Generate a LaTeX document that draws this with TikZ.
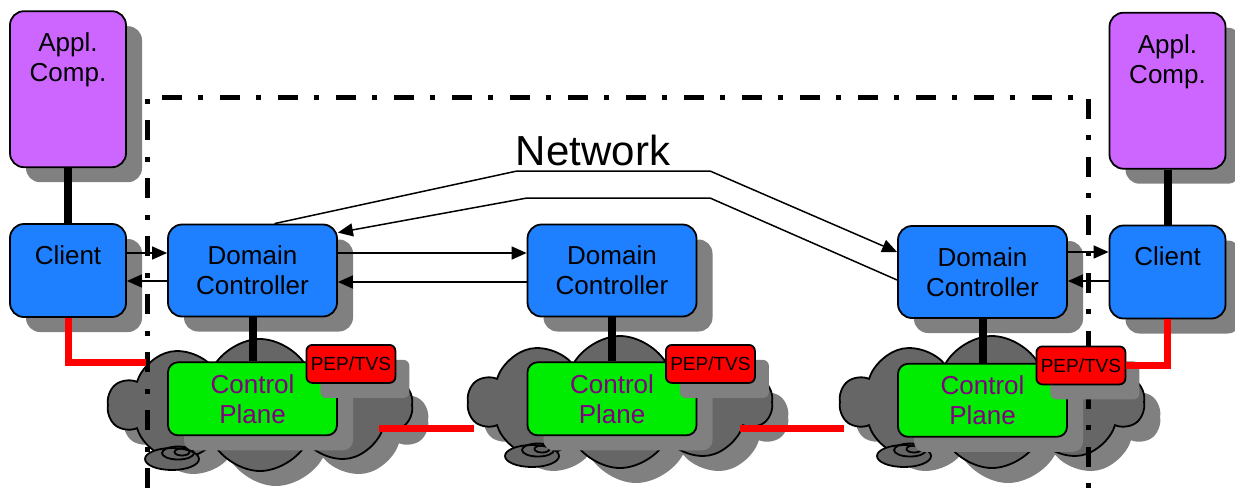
\documentclass[tikz,border=0pt]{standalone}
\usepackage{fontspec}
\setmainfont{Liberation Sans}
\usepackage{tikz}
\usetikzlibrary{positioning,shapes.symbols,shadows,arrows.meta}

\definecolor{applviolet}{RGB}{204,102,255}
\definecolor{ctrlblue}{RGB}{30,127,255}
\definecolor{planegreen}{RGB}{0,236,0}
\definecolor{planetext}{RGB}{128,0,128}
\definecolor{pepred}{RGB}{255,0,0}
\definecolor{shadowgray}{RGB}{128,128,128}
\definecolor{cloudgray}{RGB}{102,102,102}

\tikzstyle{boxshadow} = [drop shadow={shadow xshift=8pt, shadow yshift=-7.5pt, fill=shadowgray, opacity=1}]
\tikzstyle{roundbox} = [rectangle, rounded corners=7pt, draw=black, line width=0.9pt, boxshadow, font=\fontsize{13}{15}\selectfont, align=center]
\tikzstyle{applbox} = [roundbox, fill=applviolet, minimum width=58pt, minimum height=78pt]
\tikzstyle{clientbox} = [roundbox, fill=ctrlblue, minimum width=58pt, minimum height=46.5pt]
\tikzstyle{domainbox} = [roundbox, fill=ctrlblue, minimum width=84.5pt, minimum height=46pt]
\tikzstyle{planebox} = [roundbox, rounded corners=5pt, fill=planegreen, text=planetext, minimum width=84.5pt, minimum height=36.5pt]
\tikzstyle{pepbox} = [rectangle, rounded corners=3pt, draw=black, line width=0.9pt, fill=pepred, minimum width=44.5pt, minimum height=19pt, inner sep=0pt, font=\fontsize{9.5}{11}\selectfont, drop shadow={shadow xshift=7pt, shadow yshift=-7.5pt, fill=shadowgray, opacity=1}]
\tikzstyle{boxtext} = [anchor=north, yshift=-11pt, inner sep=0pt, align=center, font=\fontsize{13}{15}\selectfont]
\tikzstyle{netcloud} = [cloud, cloud puffs=10, cloud puff arc=125, aspect=2.3, draw=black, line width=0.9pt, fill=cloudgray, minimum width=152pt, minimum height=66pt, boxshadow]
\tikzstyle{cloudline} = [draw=black, line width=0.9pt]
\tikzstyle{frame} = [line width=2.5pt, dash pattern=on 10pt off 8pt on 2.5pt off 8.5pt]
\tikzstyle{solidlink} = [line width=4pt]
\tikzstyle{redlink} = [line width=3.5pt, draw=pepred]
\tikzstyle{flow} = [->, line width=0.75pt]

\begin{document}
\begin{tikzpicture}[x=0.5pt, y=-0.5pt, node distance=22pt, >={Triangle[length=7.5pt,width=6.5pt]}]
\useasboundingbox (0,0) rectangle (1235,488);

% clouds
\node (cloud1) [netcloud] at (260,405) {};
\draw[cloudline, fill=cloudgray] ([shift={(-44pt,-27pt)}]cloud1.center) ellipse (13.5pt and 5.5pt);
\draw[cloudline] ([shift={(-41pt,-24pt)}]cloud1.center) ellipse (8pt and 3.25pt);
\draw[cloudline] ([shift={(-39pt,-23.5pt)}]cloud1.center) ellipse (3.75pt and 1.75pt);

\node (cloud2) [netcloud] at (620,402) {};
\draw[cloudline, fill=cloudgray] ([shift={(-44pt,-27pt)}]cloud2.center) ellipse (13.5pt and 5.5pt);
\draw[cloudline] ([shift={(-41pt,-24pt)}]cloud2.center) ellipse (8pt and 3.25pt);
\draw[cloudline] ([shift={(-39pt,-23.5pt)}]cloud2.center) ellipse (3.75pt and 1.75pt);

\node (cloud3) [netcloud] at (992,402) {};
\draw[cloudline, fill=cloudgray] ([shift={(-44pt,-27pt)}]cloud3.center) ellipse (13.5pt and 5.5pt);
\draw[cloudline] ([shift={(-41pt,-24pt)}]cloud3.center) ellipse (8pt and 3.25pt);
\draw[cloudline] ([shift={(-39pt,-23.5pt)}]cloud3.center) ellipse (3.75pt and 1.75pt);

% clients and applications
\node (client1) [clientbox, label={[boxtext]north:Client}] at (68,270.5) {};
\node (appl1) [applbox, label={[boxtext]north:Appl.\\Comp.}, above=27.5pt of client1] {};
\node (client2) [clientbox, label={[boxtext]north:Client}] at (1167.5,272) {};
\node (appl2) [applbox, label={[boxtext]north:Appl.\\Comp.}, above=27.5pt of client2] {};

% domain controllers
\node (dc1) [domainbox] at (252.5,270.5) {Domain\\Controller};
\node (dc2) [domainbox] at (612,270.5) {Domain\\Controller};
\node (dc3) [domainbox] at (982.5,272) {Domain\\Controller};

% control planes
\node (cp1) [planebox, below=of dc1] {Control\\Plane};
\node (cp2) [planebox, below=of dc2] {Control\\Plane};
\node (cp3) [planebox, below=of dc3] {Control\\Plane};

% network border
\draw[frame] (147,488) -- (147,97) -- (1088,97) -- (1088,488);

\node (pep1) [pepbox] at ([shift={(6.5pt,-1.25pt)}]cp1.north east) {PEP/TVS};
\node (pep2) [pepbox] at ([shift={(6.5pt,-1.25pt)}]cp2.north east) {PEP/TVS};
\node (pep3) [pepbox] at ([shift={(6.5pt,-1.25pt)}]cp3.north east) {PEP/TVS};

\draw[solidlink] (appl1.south) -- (client1.north);
\draw[solidlink] (appl2.south) -- (client2.north);
\draw[solidlink] (dc1.south) -- (cp1.north);
\draw[solidlink] (dc2.south) -- (cp2.north);
\draw[solidlink] (dc3.south) -- (cp3.north);

% red links between the planes
\coordinate (link12) at ([shift={(20.5pt,-15pt)}]cp1.east);
\coordinate (link23) at ([shift={(21.5pt,-15pt)}]cp2.east);
\draw[redlink] (client1.south) |- ([shift={(-10.5pt,-0.5pt)}]cp1.north west);
\draw[redlink, shorten >=26.5pt] (link12) -- (link12 -| cp2.west);
\draw[redlink, shorten >=26.5pt] (link23) -- (link23 -| cp3.west);
\draw[redlink] (client2.south) |- (pep3.east);

\draw[flow] ([yshift=8.75pt]client1.east) -- ([yshift=8.75pt]dc1.west);
\draw[flow] ([yshift=-5.25pt]dc1.west) -- ([yshift=-5.25pt]client1.east);
\draw[flow] ([yshift=8.75pt]dc1.east) -- ([yshift=8.75pt]dc2.west);
\draw[flow] ([yshift=-5.75pt]dc2.west) -- ([yshift=-5.75pt]dc1.east);
\draw[flow] ([yshift=10pt]dc3.east) -- ([yshift=10pt]client2.west);
\draw[flow] ([yshift=-4.5pt]client2.west) -- ([yshift=-4.5pt]dc3.east);
\draw[flow] ([xshift=11pt]dc1.north) -- (517,171) -- (710,171) -- ([yshift=10pt]dc3.west);
\draw[flow] ([yshift=-4pt]dc3.west) -- (710,198) -- (527,198) -- ([yshift=-4.5pt]dc1.north east);

\node (net) at (593,150) {\fontsize{21}{25}\selectfont Network};

\end{tikzpicture}
\end{document}
